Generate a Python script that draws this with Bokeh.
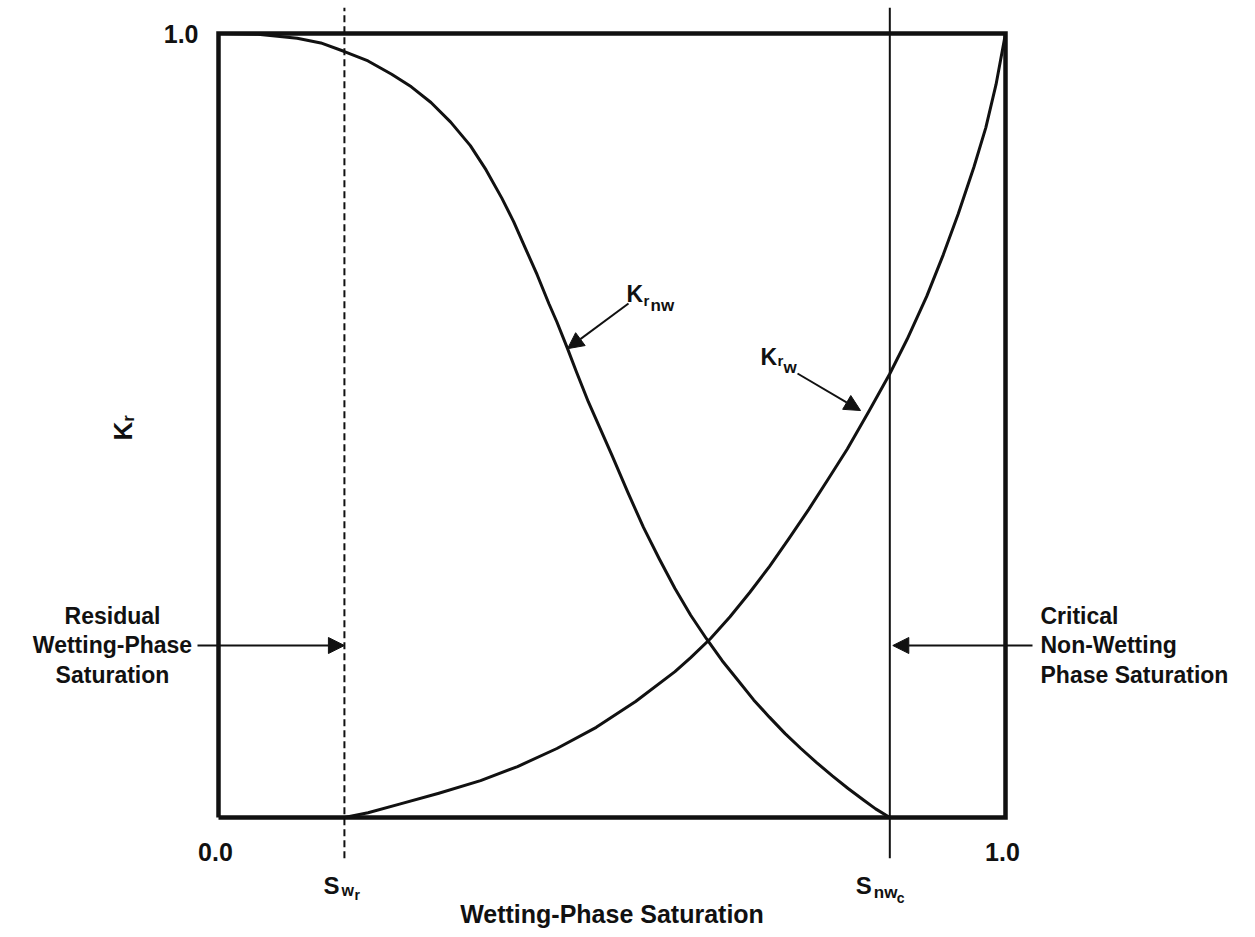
import numpy as np
from bokeh.plotting import figure
from bokeh.models import Range1d, Arrow, NormalHead
from bokeh.core.properties import value
from bokeh.embed import file_html
from bokeh.resources import INLINE

# ---------------- data ----------------
# wetting-phase saturation (fraction) and relative permeabilities
krnw_sw = [0.00, 0.05, 0.10, 0.13, 0.16, 0.19, 0.22, 0.245, 0.27, 0.295, 0.32, 0.34,
           0.36, 0.375, 0.39, 0.405, 0.42, 0.43, 0.4435, 0.455, 0.47, 0.485, 0.50,
           0.52, 0.54, 0.56, 0.58, 0.60, 0.62, 0.64, 0.66, 0.68, 0.70, 0.72, 0.74,
           0.76, 0.78, 0.80, 0.82, 0.835, 0.853]
krnw_k = [1.000, 0.999, 0.994, 0.988, 0.977, 0.965, 0.948, 0.932, 0.912, 0.887, 0.857, 0.826,
          0.790, 0.760, 0.726, 0.692, 0.655, 0.632, 0.598, 0.568, 0.530, 0.496, 0.462,
          0.415, 0.370, 0.330, 0.292, 0.258, 0.228, 0.200, 0.175, 0.150, 0.128, 0.107, 0.088,
          0.070, 0.053, 0.037, 0.022, 0.011, 0.000]

krw_sw = [0.160, 0.19, 0.23, 0.28, 0.333, 0.38, 0.43, 0.48, 0.53, 0.58, 0.60, 0.625,
          0.65, 0.675, 0.70, 0.725, 0.75, 0.775, 0.799, 0.827, 0.853, 0.875, 0.90,
          0.921, 0.94, 0.96, 0.975, 0.988, 1.000]
krw_k = [0.000, 0.006, 0.017, 0.031, 0.047, 0.065, 0.088, 0.115, 0.148, 0.186, 0.204, 0.228,
         0.256, 0.287, 0.320, 0.356, 0.393, 0.432, 0.470, 0.519, 0.566, 0.610, 0.665,
         0.718, 0.770, 0.830, 0.880, 0.935, 1.000]

box_x = [0, 1, 1, 0, 0]
box_y = [0, 0, 1, 1, 0]

SWR = 0.160    # residual wetting-phase saturation
SNWC = 0.853   # critical non-wetting phase saturation

xtick_vals = [0.0, 1.0]
xtick_labels = ["0.0", "1.0"]
ytick_vals = [1.0]
ytick_labels = ["1.0"]

# ---------------- geometry ----------------
W, H = 1255, 937
PXX = 787.0   # pixels per unit x
PXY = 784.0   # pixels per unit y
def dx(px): return px / PXX
def dy(px): return px / PXY

V_TOP = 1.033
V_BOT = -0.052

p = figure(width=W, height=H, output_backend="svg", toolbar_location=None,
           x_range=Range1d(-218 / PXX, (W - 218) / PXX),
           y_range=Range1d(-(H - 817) / PXY, 1 + 33 / PXY),
           x_axis_location=None, y_axis_location=None, min_border=0)
p.outline_line_color = None
p.grid.visible = False
p.background_fill_color = "white"
p.border_fill_color = "white"

FONT = value("Liberation Sans")
INK = "#111111"

def txt(x, y, s, size, align="left", baseline="alphabetic", angle=0.0, style="bold"):
    p.text(x=[x], y=[y], text=[s], text_font=FONT, text_font_size=f"{size}px",
           text_font_style=style, text_align=align, text_baseline=baseline,
           text_color=INK, angle=angle)

# frame box
p.line(box_x, box_y, line_width=4.5, line_color=INK, line_join="miter")

# reference lines
p.line([SWR, SWR], [V_BOT, V_TOP], line_width=2, line_color=INK, line_dash="7 4")
p.line([SNWC, SNWC], [V_BOT, V_TOP], line_width=2, line_color=INK)

# curves
p.line(krnw_sw, krnw_k, line_width=3, line_color=INK, line_join="round")
p.line(krw_sw, krw_k, line_width=3, line_color=INK, line_join="round")

# tick labels
for v, s in zip(ytick_vals, ytick_labels):
    txt(dx(-20), v, s, 25, align="right", baseline="middle")
for v, s in zip(xtick_vals, xtick_labels):
    txt(v + dx(-3), dy(-34), s, 25, align="center", baseline="middle")

# S_wr
txt(SWR + dx(-21), dy(-68), "S", 24)
txt(SWR + dx(-3), dy(-73), "w", 16)
txt(SWR + dx(10), dy(-77), "r", 14)
# S_nwc
txt(SNWC + dx(-34), dy(-68), "S", 24)
txt(SNWC + dx(-16), dy(-75), "nw", 17)
txt(SNWC + dx(7), dy(-80), "c", 14)

# axis titles
txt(0.5, dy(-96), "Wetting-Phase Saturation", 25, align="center", baseline="middle")
txt(dx(-96), dy(377), "K", 26, angle=np.pi / 2)
txt(dx(-90), dy(396), "r", 16, angle=np.pi / 2)

# curve labels
KRNW_X, KRNW_Y = dx(408), dy(524)
txt(KRNW_X, KRNW_Y, "K", 23)
txt(KRNW_X + dx(17), KRNW_Y - dy(7), "r", 15)
txt(KRNW_X + dx(24), KRNW_Y - dy(12), "nw", 17)

KRW_X, KRW_Y = dx(542), dy(461)
txt(KRW_X, KRW_Y, "K", 23)
txt(KRW_X + dx(17), KRW_Y - dy(4), "r", 15)
txt(KRW_X + dx(23), KRW_Y - dy(11), "w", 17)

def arrow(x0, y0, x1, y1):
    p.add_layout(Arrow(end=NormalHead(size=16, fill_color=INK, line_color=INK, line_width=1),
                       x_start=x0, y_start=y0, x_end=x1, y_end=y1,
                       line_width=2, line_color=INK))

arrow(dx(410), dy(514), 0.4435, 0.598)
arrow(dx(579), dy(444), 0.8158, 0.5191)

ARROW_Y = dy(172)
arrow(dx(-21), ARROW_Y, SWR, ARROW_Y)
arrow(dx(814), ARROW_Y, SNWC + dx(3), ARROW_Y)

p.text(x=[dx(-106)], y=[ARROW_Y], text=["Residual\nWetting-Phase\nSaturation"],
       text_font=FONT, text_font_size="23px", text_font_style="bold",
       text_align="center", text_baseline="middle", text_line_height=1.15,
       text_color=INK)
p.text(x=[dx(822)], y=[ARROW_Y], text=["Critical\nNon-Wetting\nPhase Saturation"],
       text_font=FONT, text_font_size="23px", text_font_style="bold",
       text_align="left", text_baseline="middle", text_line_height=1.15,
       text_color=INK)

open("out.html", "w").write(file_html(p, INLINE))
